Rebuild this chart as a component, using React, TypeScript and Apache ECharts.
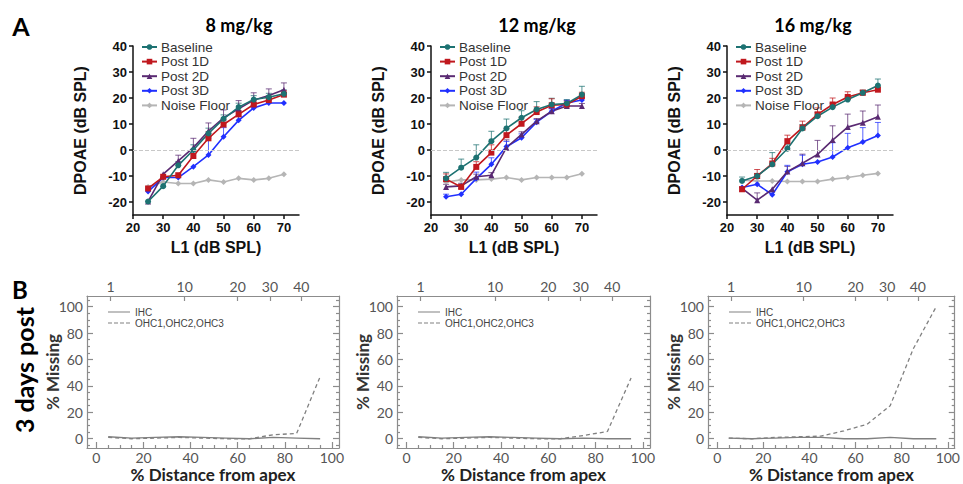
import React, { useEffect, useRef } from 'react';
import * as echarts from 'echarts';

// ---------- DATA ----------
const L1 = [25, 30, 35, 40, 45, 50, 55, 60, 65, 70];
const L1_TICKS = [20, 30, 40, 50, 60, 70];
const DPOAE_TICKS = [-20, -10, 0, 10, 20, 30, 40];
const SERIES_NAMES = ['Baseline', 'Post 1D', 'Post 2D', 'Post 3D', 'Noise Floor'];
const DOSE_TITLES = ['8 mg/kg', '12 mg/kg', '16 mg/kg'];

// 8 mg/kg
const d8Baseline = [-19.8, -13.9, -5.9, 0, 6.4, 12, 16.5, 19.4, 20.3, 21.6];
const d8Post1D = [-14.8, -10.3, -9.7, -2.3, 4.5, 9.8, 13.7, 17.5, 19.2, 21.3];
const d8Post2D = [-19.8, -9.3, -4.2, 0.9, 7.3, 12.4, 15.8, 19.2, 21, 23.2];
const d8Post3D = [-16, -10.6, -10.6, -6.4, -1.9, 5.1, 11.4, 16.2, 18.1, 18.1];
const d8Noise = [-14.2, -12.3, -12.9, -12.9, -11.5, -12.3, -10.9, -11.5, -10.9, -9.3];
const e8Baseline = [0, 0, 1.5, 2, 2, 1.5, 1.5, 1.5, 1.5, 1.5];
const e8Post1D = [0, 0, 0, 2, 2.5, 2, 1.5, 1.5, 1.5, 1.5];
const e8Post2D = [0, 0, 2.2, 3.6, 3.1, 3, 3.2, 2.8, 2.5, 2.6];
const e8Post3D = [1, 0, 0, 0, 6.5, 3.5, 1.5, 1, 1, 0];

// 12 mg/kg
const d12Baseline = [-10.9, -6.8, -2.9, 3.4, 8.3, 12.4, 15.6, 17.5, 17.9, 21.3];
const d12Post1D = [-11.2, -14.2, -6.5, -1, 5.7, 10.1, 14.6, 17.2, 17.5, 20.7];
const d12Post2D = [-14.2, -13.8, -10.3, -9.7, 0.9, 6, 11.1, 14.9, 16.9, 16.9];
const d12Post3D = [-18, -17, -11, -5.5, 1.3, 4.7, 10.7, 14.9, 18.1, 19.2];
const d12Noise = [-12.3, -11.5, -11.5, -11.2, -10.6, -11.5, -10.6, -10.6, -10.6, -9.1];
const e12Baseline = [2.3, 3.3, 4.9, 3.8, 3.6, 2.7, 3, 2.4, 1.5, 3.2];
const e12Post1D = [2, 1, 2, 3, 2.5, 2.5, 2, 2.5, 1.5, 1.5];
const e12Post2D = [1, 1, 1, 1, 3, 1, 1, 1, 1, 1];
const e12Post3D = [1, 0, 2.5, 2.5, 2, 1.5, 1, 1, 1, 1];

// 16 mg/kg
const d16Baseline = [-11.9, -10, -5.5, 0.5, 8.3, 13, 16.5, 19.4, 22, 24.8];
const d16Post1D = [-15.1, -10, -5.2, 3.4, 8.6, 13.7, 17.5, 20.4, 22, 23.2];
const d16Post2D = [-14.8, -19.3, -15.1, -8.3, -5.1, -1.7, 3.8, 8.8, 10.5, 12.8];
const d16Post3D = [-14.4, -13.2, -17.2, -8.4, -5.5, -4.6, -2.7, 0.9, 3.1, 5.6];
const d16Noise = [-11.6, -11.9, -11.9, -12.1, -12.1, -12.1, -11.2, -10.6, -9.7, -9];
const e16Baseline = [1.5, 1, 4.5, 1.5, 1.5, 1.5, 1.5, 1, 1, 2.5];
const e16Post1D = [1, 2.5, 2, 2.3, 2.5, 2.5, 2.5, 2, 1, 1];
const e16Post2D = [0, 2.8, 0, 2, 3.5, 5.4, 5.5, 5, 4.5, 4.5];
const e16Post3D = [0, 0, 0, 2.5, 3.5, 0, 5.5, 5.5, 5.5, 5];

// Cochleograms (3 days post)
const DIST = [5, 15, 25, 35, 45, 55, 65, 75, 85, 95];
const DIST_TICKS = [0, 20, 40, 60, 80, 100];
const DIST_MINOR = [5, 10, 15, 25, 30, 35, 45, 50, 55, 65, 70, 75, 85, 90, 95];
const MISSING_TICKS = [0, 20, 40, 60, 80, 100];
const MISSING_MINOR = [-5, 5, 10, 15, 25, 30, 35, 45, 50, 55, 65, 70, 75, 85, 90, 95, 105];
const FREQ_LABELS = ['1', '10', '20', '30', '40'];
const FREQ_POS = [6, 37.5, 60, 73.7, 87];
const LINE_NAMES = ['IHC', 'OHC1,OHC2,OHC3'];
const ihc8 = [1.5, 0.5, 1, 1.5, 1, 0.5, 0, 1, 0.5, 0];
const ohc8 = [1, 0, 0.5, 1, 0.5, 0, 0, 3, 4, 47];
const ihc12 = [1.5, 0.5, 1, 1.5, 1, 0.5, 0, 0.5, 0, 0];
const ohc12 = [1, 0, 0.5, 1, 0.5, 0, 0, 2.5, 5.5, 46];
const ihc16 = [0.5, 0, 0.5, 1, 1, 0, 0, 1, 0, 0];
const ohc16 = [0.5, 0, 1, 1.5, 2, 6, 11, 25, 68, 100];

// ---------- STYLE ----------
const COLORS = ['#1d7272', '#c0181e', '#5a2a72', '#2030ff', '#b5b5b5'];
const SYMBOLS = ['circle', 'rect', 'triangle', 'diamond', 'diamond'];
const TOP_LEFT = [133, 431, 727];
const BOT_LEFT = [87, 397, 708];
const BOT_WIDTH = [252, 253, 253];
const ARIAL = 'Liberation Sans';
const CAL = 'Lato';
const ICON_SOLID = 'path://M0 0H22V1H0Z';
const ICON_DASHED = 'path://M0 0H4V1H0ZM6 0H10V1H6ZM12 0H16V1H12ZM18 0H22V1H18Z';

const panels = [
  { vals: [d8Baseline, d8Post1D, d8Post2D, d8Post3D, d8Noise], errs: [e8Baseline, e8Post1D, e8Post2D, e8Post3D] },
  { vals: [d12Baseline, d12Post1D, d12Post2D, d12Post3D, d12Noise], errs: [e12Baseline, e12Post1D, e12Post2D, e12Post3D] },
  { vals: [d16Baseline, d16Post1D, d16Post2D, d16Post3D, d16Noise], errs: [e16Baseline, e16Post1D, e16Post2D, e16Post3D] },
];
const cochleo = [
  [ihc8, ohc8],
  [ihc12, ohc12],
  [ihc16, ohc16],
];

function buildOption() {
  const grid: any[] = [];
  const xAxis: any[] = [];
  const yAxis: any[] = [];
  const series: any[] = [];
  const legend: any[] = [];
  const black = { color: '#111', width: 1.5 };
  const grey = { color: '#8c8c8c', width: 1.2 };

  panels.forEach((p, i) => {
    grid.push({ left: TOP_LEFT[i], top: 46, width: 166, height: 169 });
    xAxis.push({
      gridIndex: i, type: 'value', min: 20, max: 75,
      axisLine: { onZero: false, lineStyle: black },
      axisTick: { customValues: L1_TICKS, length: 4, lineStyle: black },
      axisLabel: { customValues: L1_TICKS, margin: 6, fontFamily: ARIAL, fontWeight: 'bold', fontSize: 13, color: '#111' },
      splitLine: { show: false },
      name: 'L1 (dB SPL)', nameLocation: 'middle', nameGap: 24, nameMoveOverlap: false,
      nameTextStyle: { fontFamily: ARIAL, fontWeight: 'bold', fontSize: 16, color: '#111' },
    });
    yAxis.push({
      gridIndex: i, type: 'value', min: -25, max: 40,
      axisLine: { show: true, onZero: false, lineStyle: black },
      axisTick: { show: true, customValues: DPOAE_TICKS, length: 4, lineStyle: black },
      axisLabel: { customValues: DPOAE_TICKS, margin: 6, fontFamily: ARIAL, fontWeight: 'bold', fontSize: 13, color: '#111' },
      splitLine: { show: false },
      name: 'DPOAE (dB SPL)', nameLocation: 'middle', nameGap: 45, nameMoveOverlap: false,
      nameTextStyle: { fontFamily: ARIAL, fontWeight: 'bold', fontSize: 16, color: '#111' },
    });
    legend.push({
      left: TOP_LEFT[i] + 8, top: 40, orient: 'vertical', itemWidth: 15, itemHeight: 7, itemGap: 0.6,
      textStyle: { fontFamily: ARIAL, fontSize: 13.5, color: '#333', lineHeight: 12.8, padding: [0, 0, 0, -1] },
      padding: 0, data: SERIES_NAMES,
    });
    const order = [4, 3, 2, 1, 0];
    order.forEach((k) => {
      const s: any = {
        name: SERIES_NAMES[k], type: 'line', xAxisIndex: i, yAxisIndex: i,
        data: L1.map((x, j) => [x, p.vals[k][j]]),
        symbol: SYMBOLS[k], symbolSize: 6,
        lineStyle: { color: COLORS[k], width: 1.6 },
        itemStyle: { color: COLORS[k] },
        z: 3,
      };
      if (k === 4) {
        s.markLine = {
          silent: true, symbol: 'none', label: { show: false },
          lineStyle: { type: 'dashed', color: '#c8c8c8', width: 1 },
          data: [{ yAxis: 0 }],
        };
        s.z = 2;
      }
      series.push(s);
    });
    [0, 1, 2, 3].forEach((k) => {
      const color = COLORS[k];
      series.push({
        name: SERIES_NAMES[k] + ' SEM', type: 'custom', xAxisIndex: i, yAxisIndex: i,
        data: L1.map((x, j) => [x, p.vals[k][j], p.errs[k][j]]),
        encode: { x: 0, y: 1 }, z: 2, silent: true,
        renderItem: (params: any, api: any) => {
          const x = api.value(0), y = api.value(1), e = api.value(2);
          if (!e) return null;
          const a = api.coord([x, y]);
          const b = api.coord([x, y + e]);
          const st = { stroke: color, lineWidth: 1, opacity: 0.75 };
          return {
            type: 'group', children: [
              { type: 'line', shape: { x1: a[0], y1: a[1], x2: b[0], y2: b[1] }, style: st },
              { type: 'line', shape: { x1: b[0] - 3, y1: b[1], x2: b[0] + 3, y2: b[1] }, style: st },
            ],
          };
        },
      });
    });
  });

  cochleo.forEach((c, j) => {
    const gi = 3 + j;
    grid.push({ left: BOT_LEFT[j], top: 296, width: BOT_WIDTH[j], height: 154 });
    const xb = xAxis.length;
    const labelStyle = { fontFamily: CAL, fontSize: 14, lineHeight: 14, color: '#555' };
    xAxis.push({
      gridIndex: gi, type: 'value', position: 'bottom', min: -4, max: 103,
      axisLine: { onZero: false, lineStyle: grey },
      axisTick: { inside: true, customValues: DIST_TICKS, length: 6, lineStyle: grey },
      axisLabel: { customValues: DIST_TICKS, margin: 2, ...labelStyle },
      splitLine: { show: false },
      name: '% Distance from apex', nameLocation: 'middle', nameGap: 18, nameMoveOverlap: false,
      nameTextStyle: { fontFamily: CAL, fontWeight: 'bold', fontSize: 17, lineHeight: 17, color: '#222' },
    });
    xAxis.push({
      gridIndex: gi, type: 'value', position: 'bottom', min: -4, max: 103,
      axisLine: { show: false, onZero: false },
      axisTick: { inside: true, customValues: DIST_MINOR, length: 3, lineStyle: grey },
      axisLabel: { show: false }, splitLine: { show: false },
    });
    xAxis.push({
      gridIndex: gi, type: 'value', position: 'top', min: -4, max: 103,
      axisLine: { onZero: false, lineStyle: grey },
      axisTick: { inside: true, customValues: FREQ_POS, length: 5, lineStyle: grey },
      axisLabel: {
        customValues: FREQ_POS, margin: 3, ...labelStyle,
        formatter: (v: number) => {
          let best = 0;
          FREQ_POS.forEach((p, k) => { if (Math.abs(p - v) < Math.abs(FREQ_POS[best] - v)) best = k; });
          return FREQ_LABELS[best];
        },
      },
      splitLine: { show: false },
    });
    const yb = yAxis.length;
    yAxis.push({
      gridIndex: gi, type: 'value', position: 'left', min: -7, max: 108,
      axisLine: { show: true, onZero: false, lineStyle: grey },
      axisTick: { show: true, inside: true, customValues: MISSING_TICKS, length: 6, lineStyle: grey },
      axisLabel: { customValues: MISSING_TICKS, margin: 4, ...labelStyle },
      splitLine: { show: false },
      name: '% Missing', nameLocation: 'middle', nameGap: 26, nameMoveOverlap: false,
      nameTextStyle: { fontFamily: CAL, fontWeight: 'bold', fontSize: 17, lineHeight: 17, color: '#333' },
    });
    yAxis.push({
      gridIndex: gi, type: 'value', position: 'left', min: -7, max: 108,
      axisLine: { show: false, onZero: false },
      axisTick: { show: true, inside: true, customValues: MISSING_MINOR, length: 3, lineStyle: grey },
      axisLabel: { show: false }, splitLine: { show: false },
    });
    yAxis.push({
      gridIndex: gi, type: 'value', position: 'right', min: -7, max: 108,
      axisLine: { show: true, onZero: false, lineStyle: grey },
      axisTick: { show: true, inside: true, customValues: MISSING_TICKS, length: 6, lineStyle: grey },
      axisLabel: { show: false }, splitLine: { show: false },
    });
    yAxis.push({
      gridIndex: gi, type: 'value', position: 'right', min: -7, max: 108,
      axisLine: { show: false, onZero: false },
      axisTick: { show: true, inside: true, customValues: MISSING_MINOR, length: 3, lineStyle: grey },
      axisLabel: { show: false }, splitLine: { show: false },
    });
    c.forEach((vals, k) => {
      series.push({
        name: LINE_NAMES[k], type: 'line', xAxisIndex: xb, yAxisIndex: yb,
        data: DIST.map((x, n) => [x, vals[n]]),
        symbol: 'none',
        lineStyle: { color: '#808080', width: 1.3, type: k === 0 ? 'solid' : [4, 3] },
        itemStyle: { color: '#808080' },
      });
    });
    legend.push({
      left: BOT_LEFT[j] + 21, top: 307, orient: 'vertical', itemWidth: 22, itemHeight: 1.2, itemGap: 1,
      padding: 0, textStyle: { fontFamily: ARIAL, fontSize: 10, lineHeight: 10, color: '#444' },
      data: [
        { name: LINE_NAMES[0], icon: ICON_SOLID },
        { name: LINE_NAMES[1], icon: ICON_DASHED },
      ],
    });
  });

  const center = { textAlign: 'center', textVerticalAlign: 'middle', align: 'center', verticalAlign: 'middle' };
  const graphic: any[] = [
    { type: 'text', x: 21, y: 26, style: { text: 'A', font: `bold 25px ${CAL}`, fill: '#000', ...center } },
    { type: 'text', x: 20, y: 289, style: { text: 'B', font: `bold 24px ${CAL}`, fill: '#000', ...center } },
    { type: 'text', x: 24, y: 370, rotation: Math.PI / 2, style: { text: '3 days post', font: `bold 25px ${CAL}`, fill: '#000', ...center } },
  ];
  const titleX = [239, 537, 813];
  DOSE_TITLES.forEach((t, i) => {
    graphic.push({ type: 'text', x: titleX[i], y: 25, style: { text: t, font: `bold 18px ${CAL}`, fill: '#000', ...center } });
  });

  return { animation: false, backgroundColor: '#fff', grid, xAxis, yAxis, series, legend, graphic };
}

export default function App() {
  const ref = useRef<HTMLDivElement>(null);
  useEffect(() => {
    if (!ref.current) return;
    const chart = echarts.init(ref.current, undefined, { renderer: 'svg' });
    chart.setOption(buildOption() as any);
    return () => chart.dispose();
  }, []);
  return <div ref={ref} style={{ position: 'fixed', left: 0, top: 0, width: 963, height: 484 }} />;
}
